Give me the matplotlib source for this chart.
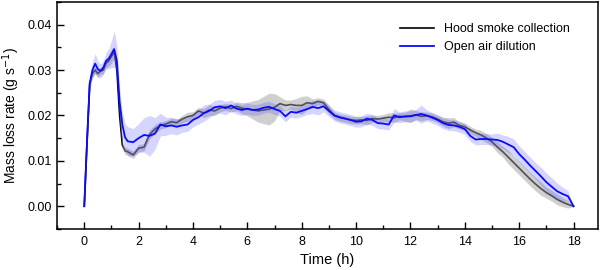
import numpy as np
import matplotlib
matplotlib.use('Agg')
import matplotlib.pyplot as plt
from matplotlib.ticker import MultipleLocator, FormatStrFormatter

plt.rcParams['font.family'] = ['Liberation Sans', 'DejaVu Sans']

# ─── data ───
time_h = [0, 0.1, 0.2, 0.3, 0.4, 0.5, 0.6, 0.7, 0.8, 0.9, 1.0, 1.1, 1.2, 1.3,
          1.4, 1.5, 1.6, 1.8, 2.0, 2.2, 2.4, 2.6, 2.8, 3.0, 3.2, 3.4, 3.6, 3.8,
          4.0, 4.2, 4.4, 4.6, 4.8, 5.0, 5.2, 5.4, 5.6, 5.8, 6.0, 6.2, 6.4, 6.6,
          6.8, 7.0, 7.2, 7.4, 7.6, 7.8, 8.0, 8.2, 8.4, 8.6, 8.8, 9.0, 9.2, 9.4,
          9.6, 9.8, 10.0, 10.2, 10.4, 10.6, 10.8, 11.0, 11.2, 11.4, 11.6, 11.8,
          12.0, 12.2, 12.4, 12.6, 12.8, 13.0, 13.2, 13.4, 13.6, 13.8, 14.0,
          14.2, 14.4, 14.6, 14.8, 15.0, 15.2, 15.4, 15.6, 15.8, 16.0, 16.2,
          16.4, 16.6, 16.8, 17.0, 17.2, 17.4, 17.6, 17.8, 18.0]

hood_rate = [0, 0.0140, 0.0270, 0.0292, 0.0300, 0.0292, 0.0298, 0.0300, 0.0315,
             0.0320, 0.0330, 0.0340, 0.0300, 0.0200, 0.0135, 0.0122, 0.0120,
             0.0113, 0.0128, 0.0130, 0.0158, 0.0170, 0.0178, 0.0181, 0.0186,
             0.0184, 0.0192, 0.0197, 0.0200, 0.0210, 0.0205, 0.0212, 0.0210,
             0.0216, 0.0219, 0.0215, 0.0220, 0.0216, 0.0214, 0.0212, 0.0210,
             0.0212, 0.0214, 0.0218, 0.0226, 0.0222, 0.0224, 0.0222, 0.0222,
             0.0228, 0.0226, 0.0231, 0.0228, 0.0213, 0.0200, 0.0195, 0.0193,
             0.0190, 0.0189, 0.0190, 0.0189, 0.0193, 0.0192, 0.0194, 0.0196,
             0.0195, 0.0198, 0.0197, 0.0199, 0.0201, 0.0198, 0.0199, 0.0197,
             0.0192, 0.0186, 0.0183, 0.0185, 0.0178, 0.0175, 0.0168, 0.0162,
             0.0157, 0.0150, 0.0142, 0.0130, 0.0120, 0.0108, 0.0096, 0.0084,
             0.0072, 0.0060, 0.0049, 0.0039, 0.0030, 0.0023, 0.0015, 0.0009,
             0.0004, 0.0]

hood_spread = [0, 0.0005, 0.0008, 0.0008, 0.0008, 0.0008, 0.0008, 0.0008,
               0.0010, 0.0012, 0.0015, 0.0012, 0.0010, 0.0010, 0.0008, 0.0008,
               0.0008, 0.0008, 0.0008, 0.0008, 0.0010, 0.0010, 0.0008, 0.0008,
               0.0008, 0.0008, 0.0008, 0.0010, 0.0008, 0.0008, 0.0010, 0.0012,
               0.0010, 0.0008, 0.0008, 0.0008, 0.0010, 0.0012, 0.0015, 0.0020,
               0.0025, 0.0030, 0.0035, 0.0030, 0.0015, 0.0012, 0.0010, 0.0015,
               0.0020, 0.0015, 0.0010, 0.0008, 0.0008, 0.0010, 0.0008, 0.0008,
               0.0008, 0.0008, 0.0008, 0.0008, 0.0010, 0.0008, 0.0008, 0.0008,
               0.0010, 0.0010, 0.0008, 0.0010, 0.0015, 0.0010, 0.0010, 0.0008,
               0.0008, 0.0008, 0.0010, 0.0012, 0.0010, 0.0008, 0.0008, 0.0008,
               0.0008, 0.0010, 0.0010, 0.0010, 0.0012, 0.0012, 0.0015, 0.0015,
               0.0015, 0.0015, 0.0015, 0.0015, 0.0015, 0.0012, 0.0012, 0.0012,
               0.0010, 0.0008, 0]

open_rate = [0, 0.0140, 0.0270, 0.0300, 0.0314, 0.0302, 0.0298, 0.0305, 0.0320,
             0.0325, 0.0335, 0.0346, 0.0320, 0.0230, 0.0180, 0.0152, 0.0143,
             0.0141, 0.0150, 0.0157, 0.0155, 0.0160, 0.0180, 0.0176, 0.0178,
             0.0175, 0.0178, 0.0180, 0.0190, 0.0196, 0.0205, 0.0210, 0.0218,
             0.0220, 0.0216, 0.0222, 0.0215, 0.0212, 0.0215, 0.0212, 0.0213,
             0.0217, 0.0219, 0.0214, 0.0210, 0.0198, 0.0208, 0.0206, 0.0210,
             0.0214, 0.0219, 0.0216, 0.0220, 0.0210, 0.0200, 0.0196, 0.0193,
             0.0190, 0.0186, 0.0187, 0.0193, 0.0190, 0.0183, 0.0182, 0.0180,
             0.0200, 0.0196, 0.0198, 0.0198, 0.0201, 0.0203, 0.0200, 0.0195,
             0.0190, 0.0183, 0.0179, 0.0178, 0.0175, 0.0170, 0.0155, 0.0147,
             0.0148, 0.0148, 0.0147, 0.0146, 0.0142, 0.0136, 0.0130, 0.0115,
             0.0103, 0.0090, 0.0078, 0.0066, 0.0053, 0.0043, 0.0033, 0.0027,
             0.0022, 0.0]

open_spread = [0, 0.0008, 0.0012, 0.0018, 0.0022, 0.0018, 0.0015, 0.0015,
               0.0018, 0.0022, 0.0030, 0.0040, 0.0035, 0.0030, 0.0028, 0.0030,
               0.0032, 0.0030, 0.0032, 0.0038, 0.0045, 0.0035, 0.0025, 0.0020,
               0.0018, 0.0018, 0.0015, 0.0015, 0.0015, 0.0015, 0.0018, 0.0015,
               0.0015, 0.0015, 0.0015, 0.0012, 0.0012, 0.0012, 0.0012, 0.0012,
               0.0012, 0.0012, 0.0012, 0.0012, 0.0012, 0.0012, 0.0012, 0.0012,
               0.0012, 0.0012, 0.0015, 0.0015, 0.0012, 0.0012, 0.0012, 0.0012,
               0.0012, 0.0012, 0.0012, 0.0012, 0.0012, 0.0012, 0.0012, 0.0012,
               0.0012, 0.0015, 0.0012, 0.0012, 0.0012, 0.0012, 0.0020, 0.0012,
               0.0012, 0.0012, 0.0012, 0.0012, 0.0012, 0.0012, 0.0012, 0.0012,
               0.0012, 0.0012, 0.0012, 0.0012, 0.0015, 0.0015, 0.0018, 0.0018,
               0.0018, 0.0018, 0.0018, 0.0018, 0.0020, 0.0020, 0.0020, 0.0018,
               0.0015, 0.0012, 0]

t = np.array(time_h)
hood = np.array(hood_rate)
hood_sd = np.array(hood_spread)
air = np.array(open_rate)
air_sd = np.array(open_spread)

# ─── figure ───
fig = plt.figure(figsize=(6.01, 2.70), dpi=100)
ax = fig.add_axes([0.095, 0.152, 0.9, 0.841])

ax.plot(t, hood, color='black', lw=1.2, zorder=2, label='Hood smoke collection')
ax.fill_between(t, hood - hood_sd, hood + hood_sd, color='#a0a0a0',
                alpha=0.5, lw=0, zorder=3)
ax.fill_between(t, air - air_sd, air + air_sd, color='#4040ff',
                alpha=0.22, lw=0, zorder=4)
ax.plot(t, air, color='#0a0aff', lw=1.3, zorder=5, label='Open air dilution')

ax.set_xlim(-1, 18.9)
ax.set_ylim(-0.005, 0.045)
ax.xaxis.set_major_locator(MultipleLocator(2))
ax.xaxis.set_minor_locator(MultipleLocator(1))
ax.yaxis.set_major_locator(MultipleLocator(0.01))
ax.yaxis.set_minor_locator(MultipleLocator(0.005))
ax.yaxis.set_major_formatter(FormatStrFormatter('%.2f'))
ax.tick_params(which='both', direction='in', labelsize=9, width=1.0)
ax.tick_params(which='major', length=5)
ax.tick_params(which='minor', length=3)
ax.tick_params(axis='x', pad=5)
for spine in ax.spines.values():
    spine.set_linewidth(1.1)

ax.set_xlabel('Time (h)', fontsize=10.5, labelpad=4)
ax.set_ylabel('Mass loss rate (g s$^{-1}$)', fontsize=10)
ax.yaxis.set_label_coords(-0.064, 0.5)

ax.legend(loc='upper right', frameon=False, fontsize=9, handlelength=2.7,
          bbox_to_anchor=(0.968, 0.955), labelspacing=0.45)

fig.savefig('out.png', dpi=100)
